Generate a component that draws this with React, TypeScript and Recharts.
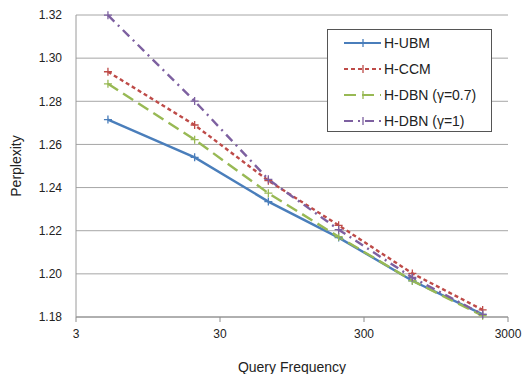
import { LineChart, Line, XAxis, YAxis, CartesianGrid, Label } from "recharts";

const frequencies = [5, 20, 65, 200, 650, 2000];
const hUbm = [1.2715, 1.254, 1.2335, 1.2168, 1.1968, 1.1812];
const hCcm = [1.2937, 1.269, 1.2432, 1.2225, 1.2002, 1.1833];
const hDbn07 = [1.2881, 1.2622, 1.2374, 1.2172, 1.1968, 1.1806];
const hDbn1 = [1.3199, 1.2801, 1.2438, 1.2205, 1.1983, 1.1812];
const xTicks = [3, 30, 300, 3000];
const yTicks = [1.18, 1.2, 1.22, 1.24, 1.26, 1.28, 1.3, 1.32];

const series = [
  { key: "ubm", name: "H-UBM", values: hUbm, color: "#4A7EBB", dash: undefined },
  { key: "ccm", name: "H-CCM", values: hCcm, color: "#BE4B48", dash: "4 3" },
  { key: "dbn07", name: "H-DBN (\u03b3=0.7)", values: hDbn07, color: "#98B954", dash: "12 6" },
  { key: "dbn1", name: "H-DBN (\u03b3=1)", values: hDbn1, color: "#7D60A0", dash: "9 5 2 5" },
];

const data = frequencies.map((f, i) => {
  const row: Record<string, number> = { freq: f };
  series.forEach((s) => (row[s.key] = s.values[i]));
  return row;
});

const FONT = "'Liberation Sans', Arial, sans-serif";

// plus-shaped marker like the Excel "+" points
const plus = (color: string) => (props: any) => {
  const { cx, cy, index } = props;
  if (cx == null || cy == null) return <g key={index} />;
  return (
    <path
      key={index}
      d={`M${cx - 4} ${cy}H${cx + 4}M${cx} ${cy - 4}V${cy + 4}`}
      stroke={color}
      strokeWidth={1.3}
      fill="none"
    />
  );
};

function LegendBox() {
  return (
    <div
      style={{
        position: "absolute",
        left: 327,
        top: 29,
        width: 165,
        height: 103,
        border: "1px solid #555",
        background: "#fff",
        fontFamily: FONT,
        fontSize: 14,
        color: "#222",
        boxSizing: "border-box",
      }}
    >
      {series.map((s, i) => (
        <div
          key={s.key}
          style={{ position: "absolute", left: 15, top: 5 + i * 26, height: 16, display: "flex", alignItems: "center" }}
        >
          <svg width={40} height={16}>
            <line x1={1} y1={8} x2={38} y2={8} stroke={s.color} strokeWidth={2.2} strokeDasharray={s.dash} />
            <path d="M20 4V12" stroke={s.color} strokeWidth={1.3} />
          </svg>
          <span style={{ marginLeft: 1 }}>{s.name}</span>
        </div>
      ))}
    </div>
  );
}

export default function App() {
  return (
    <div style={{ position: "absolute", left: 0, top: 0, width: 522, height: 374, background: "#fff" }}>
      <LineChart
        width={522}
        height={374}
        data={data}
        margin={{ top: 15, right: 14, left: 0, bottom: 0 }}
        style={{ fontFamily: FONT }}
      >
        <CartesianGrid vertical={false} stroke="#a6a6a6" strokeWidth={1} />
        <XAxis
          dataKey="freq"
          type="number"
          scale="log"
          domain={[3, 3000]}
          ticks={xTicks}
          allowDataOverflow
          height={57}
          stroke="#8c8c8c"
          tickSize={5}
          tickMargin={7}
          tick={{ fill: "#222", fontSize: 12 }}
        >
          <Label value="Query Frequency" position="insideBottom" offset={2} style={{ fill: "#222", fontSize: 14 }} />
        </XAxis>
        <YAxis
          type="number"
          domain={[1.18, 1.32]}
          ticks={yTicks}
          width={76}
          stroke="#9a9a9a"
          tickLine={false}
          tickSize={0}
          tickMargin={14}
          tickFormatter={(v: number) => v.toFixed(2)}
          tick={{ fill: "#222", fontSize: 12 }}
        >
          <Label value="Perplexity" angle={-90} position="insideLeft" offset={16} style={{ fill: "#222", fontSize: 14, textAnchor: "middle" }} />
        </YAxis>
        {series.map((s) => (
          <Line
            key={s.key}
            dataKey={s.key}
            name={s.name}
            type="linear"
            stroke={s.color}
            strokeWidth={2.4}
            strokeDasharray={s.dash}
            dot={plus(s.color)}
            activeDot={false}
            isAnimationActive={false}
          />
        ))}
      </LineChart>
      <LegendBox />
    </div>
  );
}
